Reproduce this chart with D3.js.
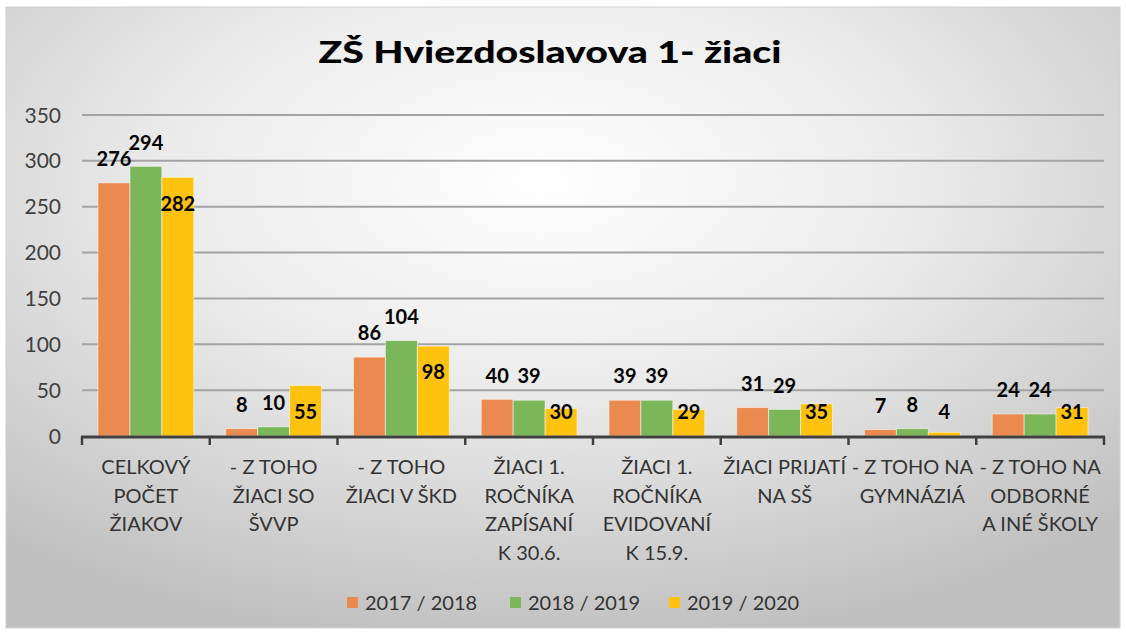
<!DOCTYPE html>
<html><head><meta charset="utf-8">
<script src="https://cdn.jsdelivr.net/npm/d3@7"></script>
<style>html,body{margin:0;padding:0;background:#fff;}svg{display:block;}</style>
</head><body>
<svg id="c" width="1126" height="632"></svg>
<script>
const categories = [
  ["CELKOVÝ","POČET","ŽIAKOV"],
  ["- Z TOHO","ŽIACI SO","ŠVVP"],
  ["- Z TOHO","ŽIACI V ŠKD"],
  ["ŽIACI 1.","ROČNÍKA","ZAPÍSANÍ","K 30.6."],
  ["ŽIACI 1.","ROČNÍKA","EVIDOVANÍ","K 15.9."],
  ["ŽIACI PRIJATÍ","NA SŠ"],
  ["- Z TOHO NA","GYMNÁZIÁ"],
  ["- Z TOHO NA","ODBORNÉ","A INÉ ŠKOLY"]
];
const seriesNames = ["2017 / 2018","2018 / 2019","2019 / 2020"];
const s2017 = [276, 8, 86, 40, 39, 31, 7, 24];
const s2018 = [294, 10, 104, 39, 39, 29, 8, 24];
const s2019 = [282, 55, 98, 30, 29, 35, 4, 31];
const yTicks = [0,50,100,150,200,250,300,350];
const title = "ZŠ Hviezdoslavova 1- žiaci";
const colors = ["#EB8A4F","#7BB65B","#FFC20E"];

const values = [s2017, s2018, s2019];
const svg = d3.select("#c");
const font = "Lato, 'Open Sans', sans-serif";

// background
const defs = svg.append("defs");
const rg = defs.append("radialGradient").attr("id","bg")
  .attr("cx","48%").attr("cy","28%").attr("r","75%");
rg.append("stop").attr("offset","0%").attr("stop-color","#ffffff");
rg.append("stop").attr("offset","45%").attr("stop-color","#ebebeb");
rg.append("stop").attr("offset","100%").attr("stop-color","#c0c0c0");
svg.append("rect").attr("x",6).attr("y",7).attr("width",1114).attr("height",621)
  .attr("fill","url(#bg)").attr("stroke","#d0d0d0").attr("stroke-width",1);

const x = d3.scaleBand().domain(d3.range(categories.length)).range([82,1104]).padding(0);
const xs = d3.scaleBand().domain(d3.range(seriesNames.length)).range([0,x.bandwidth()])
  .paddingInner(0).paddingOuter(0.5);
const y = d3.scaleLinear().domain([0,350]).range([436,115]);

// gridlines
svg.append("g").selectAll("line").data(yTicks.filter(t=>t>0)).join("line")
  .attr("x1",82).attr("x2",1104)
  .attr("y1",d=>y(d)).attr("y2",d=>y(d))
  .attr("stroke","#a3a3a3").attr("stroke-width",2);

// y tick labels
svg.append("g").selectAll("text").data(yTicks).join("text")
  .attr("x",61).attr("y",d=>y(d)).attr("dy","0.36em")
  .attr("text-anchor","end").attr("font-family",font).attr("font-size",21)
  .attr("fill","#404040").text(d=>d);

// bars
const groups = svg.append("g").selectAll("g").data(categories).join("g")
  .attr("transform",(d,i)=>`translate(${x(i)},0)`);
groups.selectAll("rect").data((d,i)=>values.map((s,k)=>({k, v:s[i]}))).join("rect")
  .attr("x",d=>xs(d.k)).attr("width",xs.bandwidth())
  .attr("y",d=>y(d.v)).attr("height",d=>y(0)-y(d.v))
  .attr("fill",d=>colors[d.k]).attr("stroke","#ffffff").attr("stroke-opacity",0.5).attr("stroke-width",1);

// data labels
groups.selectAll("text.lbl").data((d,i)=>values.map((s,k)=>({k, v:s[i]}))).join("text")
  .attr("class","lbl")
  .attr("x",d=>xs(d.k)+xs.bandwidth()/2)
  .attr("y",d=> d.k<2 ? y(d.v)-24 : Math.min(y(d.v)+26, y(0)-24))
  .attr("dy","0.36em")
  .attr("text-anchor","middle").attr("font-family",font).attr("font-weight","bold")
  .attr("font-size",20).attr("fill","#000").text(d=>d.v);

// axis line
svg.append("line").attr("x1",81).attr("x2",1105).attr("y1",437).attr("y2",437)
  .attr("stroke","#404040").attr("stroke-width",3);
svg.append("g").selectAll("line").data(d3.range(categories.length+1)).join("line")
  .attr("x1",d=>82+d*x.step()).attr("x2",d=>82+d*x.step())
  .attr("y1",437).attr("y2",445).attr("stroke","#404040").attr("stroke-width",2.5);

// category labels
groups.each(function(lines,i){
  const t = d3.select(this).append("text")
    .attr("text-anchor","middle").attr("font-family",font).attr("font-size",20)
    .attr("fill","#333333");
  lines.forEach((ln,j)=>{
    t.append("tspan").attr("x",x.bandwidth()/2).attr("y",474+j*28.5).text(ln);
  });
});

// title
svg.append("text").attr("x",550).attr("y",63).attr("text-anchor","middle")
  .attr("font-family",font).attr("font-weight",900).attr("font-size",31)
  .attr("fill","#000").attr("textLength",463).attr("lengthAdjust","spacingAndGlyphs")
  .text(title);

// legend
const legX = [347,510,669];
const leg = svg.append("g").selectAll("g").data(seriesNames).join("g")
  .attr("transform",(d,i)=>`translate(${legX[i]},0)`);
leg.append("rect").attr("x",0).attr("y",597).attr("width",11).attr("height",11)
  .attr("fill",(d,i)=>colors[i]);
leg.append("text").attr("x",18).attr("y",602.5).attr("dy","0.36em")
  .attr("font-family",font).attr("font-size",20).attr("fill","#333333").text(d=>d);
</script>
</body></html>
